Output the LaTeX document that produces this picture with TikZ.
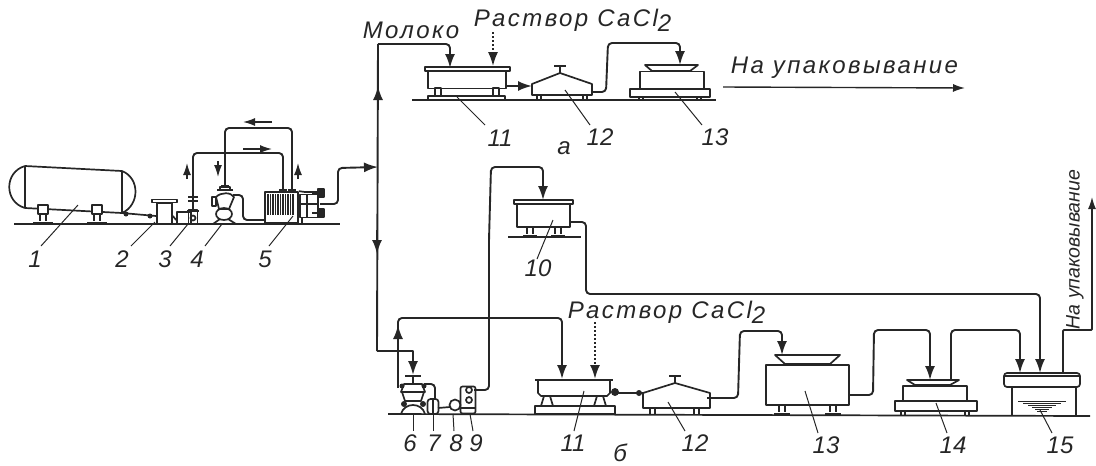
\documentclass[tikz,border=0pt]{standalone}
\usepackage{fontspec}
\setmainfont{Liberation Sans}
\usepackage{tikz}
\usetikzlibrary{arrows.meta}

\begin{document}
\begin{tikzpicture}[
        x=1pt, y=-1pt,
        % Define common styles for the parts and text
        line width=1.7pt, line join=round,
        color=black!85,
        unit/.style={draw, rectangle, inner sep=0pt},
        thin part/.style={line width=1.1pt},
        hatch part/.style={line width=0.6pt},
        pipe/.style={line width=1.9pt, rounded corners=4pt},
        arrow/.style={pipe, -{Latex[length=14pt, width=10pt]}},
        main tip/.style={line width=1.9pt, -{Latex[length=14pt, width=10pt]}},
        free arrow/.style={line width=1.4pt, -{Latex[length=12pt, width=8pt]}},
        dotted arrow/.style={line width=2pt, dotted, -{Latex[length=14pt, width=10pt]}},
        leader/.style={line width=1pt},
        num/.style={font=\fontsize{24}{26}\selectfont\itshape, inner sep=0pt},
        caption/.style={font=\fontsize{24}{26}\selectfont\itshape\addfontfeature{LetterSpace=10}, inner sep=0pt, anchor=west},
        side caption/.style={font=\fontsize{19.5}{22}\selectfont\itshape, inner sep=0pt, anchor=west, rotate=90}
    ]
    \useasboundingbox (0,0) rectangle (1096,466);

    % Define the floor lines
    \draw (14,224) -- (340,224);
    \draw (412,100) -- (716,100);
    \draw (508,237) -- (581,237);
    \draw (388,414) -- (1090,416);

    % Tank and left hand line
    \coordinate (tankout) at (122,213);
    \draw (25,166) -- (122,171) (25,208) -- (122,213);
    \draw (25,166) -- (25,208) (122,171) -- (122,213);
    \draw (25,166) .. controls (4,172) and (4,202) .. (25,208);
    \draw (122,171) .. controls (140,178) and (140,205) .. (122,213);
    \foreach \xs in {43,97} {
        \draw[fill=white] (\xs-5,205) rectangle (\xs+5,214);
        \draw (\xs-3,214) -- (\xs-3,221) (\xs+3,214) -- (\xs+3,221);
        \draw (\xs-10,223) -- (\xs+10,223);
    }
    \node[unit, minimum width=25pt, minimum height=3pt] (filtertop) at (164.5,201) {};
    \node[unit, minimum width=15pt, minimum height=21pt] (filter) at (164.5,213.5) {};
    \draw (filtertop) -- (filter);
    \node[unit, minimum width=14pt, minimum height=12pt] (mixer) at (184,218) {};
    \draw (filter.east |- 0,216) -- (mixer.west |- 0,220);
    \node[unit, minimum width=9pt, minimum height=14pt] (tap) at (193,217) {};
    \draw (193,218) circle (2.5pt);
    \draw (187,211) -- (199,211);
    \draw (188,197) -- (198,197) (188,201) -- (198,201);
    \draw (tankout) -- (filter.west |- 0,216);
    \fill (126,214) circle (2.5pt) (150,216) circle (2.5pt);

    % Pump
    \coordinate (pumptop) at (225,187);
    \coordinate (pumpout) at (233,195);
    \draw (217,190) -- (233,190);
    \draw (220,187) rectangle (230,190);
    \draw[fill=white] (212,197) rectangle (216,206);
    \draw (216,197) .. controls (221,192) and (231,192) .. (234,197) -- (229,209) -- (219,209) -- cycle;
    \draw (224,214) ellipse (8pt and 6pt);
    \draw (213,224) -- (220,219) (236,224) -- (228,219);
    \draw[pipe] (pumpout) -| (243,220) -- (265,220);

    % Heat exchanger
    \node[unit, minimum width=33pt, minimum height=31pt] (exchanger) at (281.5,207.5) {};
    \foreach \xs in {268,270.5,...,295} {
        \draw[thin part] (\xs,194) -- (\xs,215);
    }
    \draw (exchanger.north east) -- (305,192) -- (318,192);
    \node[unit, minimum width=18pt, minimum height=23pt] (frame) at (309,206) {};
    \draw (300,204) -- (318,204) (307,195) -- (307,218);
    \draw (298,218) -- (298,224) (302,218) -- (302,224);
    \draw[fill=black!85] (318,189) rectangle (324,197) (318,209) rectangle (324,217);
    \draw (318,193) -- (312,193) (318,213) -- (312,213);
    \coordinate (exchtop1) at (283,190);
    \coordinate (exchtop2) at (292,190);
    \coordinate (exchout) at (320,204);

    % Main line and its branches
    \coordinate (maintop) at (378,44);
    \coordinate (mainbottom) at (377,351);
    \draw[pipe] (193,197) -- (193,153) -| (exchtop1);
    \draw (193,197) -- (193,211);
    \draw[pipe] (pumptop) -- (225,128) -| (exchtop2);
    \draw[line width=2.5pt] (221,186) -- (229,186) (279,190) -- (287,190) (288,190) -- (296,190);
    \draw[arrow] (exchout) -| (338,168) -- (378,167);
    \draw[pipe] (maintop) -- (mainbottom);
    \draw[main tip] (378,110) -- (378,86);
    \draw[main tip] (377,230) -- (377,254);
    \draw[arrow] (maintop) -| (450,68);

    % Free arrows over the left hand line
    \draw[free arrow] (187,179) -- (187,163);
    \draw[free arrow] (218,161) -- (218,177);
    \draw[free arrow] (243,149) -- (272,149);
    \draw[free arrow] (272,122) -- (243,122);
    \draw[free arrow] (298,179) -- (298,163);

    % Group a
    \node[unit, minimum width=85pt, minimum height=4pt] (coaglid) at (467.5,69) {};
    \node[unit, minimum width=78pt, minimum height=17pt] (coag) at (467,80) {};
    \node[unit, minimum width=77pt, minimum height=4pt] (coagbase) at (466.5,98) {};
    \foreach \xs in {438,496} {
        \draw[fill=white] (\xs-3,88) rectangle (\xs+3,96);
    }
    \draw[dotted arrow] (493,32) -- (coaglid.north -| 493,0);
    \coordinate (coagout) at (506,86);
    \coordinate (pressin) at (532,86);
    \draw[arrow] (coagout) -- (pressin);
    \draw (pressin) -- (532,84) -- (560,73) -- (592,84) -- (592,95) -- (532,95) -- cycle;
    \draw (560,73) -- (560,67) (554,66) -- (566,66);
    \draw (537,95) -- (537,100) (541,95) -- (541,100) (583,95) -- (583,100) (587,95) -- (587,100);
    \coordinate (pressout) at (592,92);
    \coordinate (dishtop) at (680,65);
    \draw[arrow] (pressout) -- (606,92) -- (608,43) -| (dishtop);
    \draw (645,65) -- (698,65) -- (690,71) -- (652,71) -- cycle;
    \node[unit, minimum width=64pt, minimum height=17pt] (cooler) at (672,80) {};
    \node[unit, minimum width=80pt, minimum height=8pt] (coolerbase) at (670,93) {};
    \draw (639,97) -- (639,100) (643,97) -- (643,100) (697,97) -- (697,100) (701,97) -- (701,100);
    \coordinate (outa) at (723,87);
    \coordinate (outaend) at (965,88);
    \draw[free arrow] (outa) -- (outaend);

    % Group b, separator and small units
    \coordinate (sepin) at (413,375);
    \coordinate (sepup) at (398,388);
    \draw[main tip] (mainbottom) -| (sepin);
    \draw (405,376) -- (421,376);
    \draw (413,376) -- (413,383);
    \draw (404,384) -- (422,384) -- (425,392) -- (401,392) -- cycle;
    \draw (402,392) -- (405,401) -- (421,401) -- (424,392);
    \draw (401,414) .. controls (404,402) and (422,402) .. (425,414);
    \fill (404,404) circle (3pt) (423,404) circle (3pt) (402,386) circle (2.5pt) (424,386) circle (2.5pt);
    \draw[pipe] (424,384) -- (435,384) -- (435,399);
    \node[unit, minimum width=11pt, minimum height=15pt, rounded corners=3pt] (unitseven) at (433,406.5) {};
    \draw (433,398) -- (433,414);
    \node[draw, circle, minimum size=11pt, inner sep=0pt] (uniteight) at (455,405) {};
    \draw (438,408) -- (450,407);
    \node[unit, minimum width=15pt, minimum height=27pt, rounded corners=2pt] (unitnine) at (468,400) {};
    \foreach \ys in {390,400} {
        \draw (469,\ys) circle (3pt);
    }
    \draw (460,408) -- (476,408);
    \coordinate (ninetap) at (474,390);
    \coordinate (tenin) at (543,200);

    % Group b, vat line
    \node[unit, minimum width=59pt, minimum height=4pt] (basinlid) at (543.5,202) {};
    \node[unit, minimum width=53pt, minimum height=23pt] (basin) at (543.5,215.5) {};
    \foreach \xs in {530,558} {
        \draw (\xs-3,227) -- (\xs-3,234) (\xs+3,227) -- (\xs+3,234);
        \draw (\xs-7,236) -- (\xs+7,236);
    }
    \draw[arrow] (ninetap) -| (489,240) -- (491,167) -| (tenin);
    \coordinate (tenout) at (571,222);
    \coordinate (bathtop) at (1040,373);
    \draw[arrow] (tenout) -| (586,294) -| (bathtop);

    % Group b, second coagulator
    \draw[main tip] (sepup) -- (398,325);
    \coordinate (vatin) at (562,379);
    \draw[arrow] (398,330) -- (398,318) -| (vatin);
    \draw[line width=2.2pt] (535,380) -- (613,380);
    \draw (538,380) -- (538,393) -- (541,396) -- (607,396) -- (610,393) -- (610,380);
    \node[unit, minimum width=80pt, minimum height=8pt] (vatbase) at (575,410) {};
    \foreach \xs in {547,600} {
        \draw (\xs-3,396) -- (\xs-6,406) -- (\xs+6,406) -- (\xs+3,396);
    }
    \draw[dotted arrow] (595,322) -- (595,379);
    \fill (615,392) circle (4pt) (639,393) circle (3pt);
    \draw (615,393) -- (643,393);
    \draw (643,393) -- (675,383) -- (710,393) -- (710,408) -- (643,408) -- cycle;
    \draw (675,383) -- (675,377) (669,376) -- (681,376);
    \foreach \xs in {650,655,694,699} {
        \draw (\xs,408) -- (\xs,414);
    }
    \coordinate (pressout2) at (707,398);
    \coordinate (dish2) at (782,355);
    \draw[arrow] (pressout2) -- (738,398) -- (740,331) -| (dish2);
    \draw (775,355) -- (840,355) -- (830,364) -- (785,364) -- cycle;
    \node[unit, minimum width=83pt, minimum height=40pt] (cooler2) at (807.5,385) {};
    \foreach \xs in {782,833} {
        \draw (\xs-3,405) -- (\xs-3,412) (\xs+3,405) -- (\xs+3,412);
        \draw (\xs-8,414) -- (\xs+8,414);
    }
    \coordinate (cooler2out) at (849,395);
    \coordinate (unit14in) at (930,380);
    \draw[arrow] (cooler2out) -- (873,395) -- (874,330) -| (unit14in);
    \draw (907,380) -- (959,380) -- (950,385) -- (915,385) -- cycle;
    \node[unit, minimum width=64pt, minimum height=15pt] (unit14) at (935,393.5) {};
    \node[unit, minimum width=82pt, minimum height=10pt] (unit14base) at (936,406) {};
    \foreach \xs in {901,905,965,969} {
        \draw (\xs,411) -- (\xs,415);
    }
    \coordinate (unit14out) at (951,380);
    \coordinate (bathin) at (1020,373);
    \draw[arrow] (unit14out) -- (951,330) -| (bathin);
    \node[unit, minimum width=76pt, minimum height=14pt, rounded corners=3pt] (bathlid) at (1042,380) {};
    \draw (1004,376) -- (1080,376);
    \draw (1012,387) -- (1012,415) (1076,387) -- (1076,415);
    \foreach \ys/\ws in {401/24,403/19,405/14,407/10,409/7,411/5} {
        \draw[hatch part] (1042-\ws,\ys) -- (1042+\ws,\ys);
    }
    \coordinate (bathout) at (1063,373);
    \coordinate (packtop) at (1092,197);
    \draw[pipe, rounded corners=1pt] (bathout) -- (1063,330) -- (1092,330) -- (1092,210);
    \draw[free arrow] (1092,215) -- (packtop);

    % Numbers with their leaders
    \foreach \nm/\xl/\yl/\xp/\yp/\xa/\ya in {
        1/35/259/78/205/41/246,
        2/122/259/155/222/131/246,
        3/165/259/188/224/170/246,
        4/197/259/222/224/205/246,
        5/265/259/293/216/269/246,
        6/410/443/413/414/413/431,
        7/434/443/433/414/433/431,
        8/456/443/453/414/454/431,
        9/476/443/470/414/473/431,
        11/573/443/584/391/574/431,
        12/695/443/668/402/685/431,
        13/826/445/805/391/818/433,
        14/953/445/936/403/947/433,
        15/1060/445/1040/410/1052/433,
        10/538/268/553/220/537/259
    } {
        \node[num] (label\nm) at (\xl,\yl) {\nm};
        \coordinate (lead\nm) at (\xp,\yp);
        \draw[leader] (lead\nm) -- (\xa,\ya);
    }
    \node[num] (labelA) at (500,138) {11};
    \node[num] (labelB) at (600,137) {12};
    \node[num] (labelC) at (715,137) {13};
    \coordinate (leadA) at (457,97);
    \coordinate (leadB) at (565,90);
    \coordinate (leadC) at (675,92);
    \draw[leader] (leadA) -- (485,125);
    \draw[leader] (leadB) -- (590,125);
    \draw[leader] (leadC) -- (702,125);

    % Text of the picture
    \node[num] (groupa) at (564,148) {а};
    \node[num] (groupb) at (620,453) {б};
    \node[caption] (milk) at (362,30) {Молоко};
    \node[caption] (solutiona) at (473,20) {Раствор CaCl\raisebox{-5pt}{2}};
    \node[caption] (solutionb) at (567,312) {Раствор CaCl\raisebox{-5pt}{2}};
    \node[caption] (packa) at (730,68) {На упаковывание};
    \node[side caption] (packb) at (1075,330) {На упаковывание};

\end{tikzpicture}
\end{document}
